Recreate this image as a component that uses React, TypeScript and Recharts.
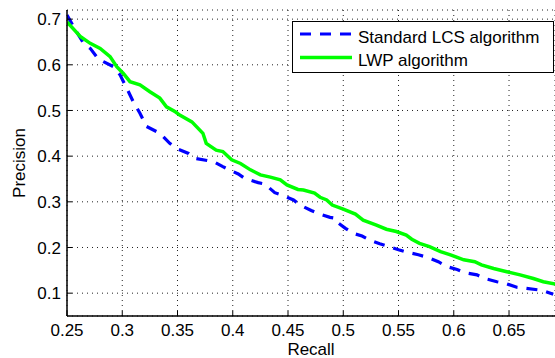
import React from 'react';
import { LineChart, Line, XAxis, YAxis, CartesianGrid, Legend } from 'recharts';

const seriesNames = ['Standard LCS algorithm', 'LWP algorithm'];

const lcsRecall = [0.25, 0.256, 0.265, 0.271, 0.278, 0.283, 0.292, 0.298, 0.304, 0.31, 0.316, 0.322, 0.334, 0.343, 0.349, 0.36, 0.366, 0.378, 0.384, 0.391, 0.397, 0.405, 0.411, 0.423, 0.429, 0.438, 0.444, 0.455, 0.461, 0.471, 0.479, 0.488, 0.493, 0.494, 0.502, 0.509, 0.517, 0.524, 0.533, 0.541, 0.55, 0.559, 0.568, 0.577, 0.586, 0.594, 0.603, 0.61, 0.621, 0.628, 0.639, 0.646, 0.657, 0.664, 0.677, 0.681, 0.69];
const lcsPrecision = [0.709, 0.683, 0.647, 0.636, 0.614, 0.607, 0.596, 0.578, 0.549, 0.519, 0.494, 0.465, 0.45, 0.428, 0.417, 0.406, 0.395, 0.39, 0.386, 0.377, 0.37, 0.361, 0.351, 0.342, 0.339, 0.32, 0.315, 0.304, 0.293, 0.281, 0.273, 0.266, 0.264, 0.256, 0.242, 0.231, 0.225, 0.216, 0.208, 0.202, 0.195, 0.189, 0.184, 0.178, 0.169, 0.158, 0.152, 0.145, 0.14, 0.132, 0.125, 0.122, 0.113, 0.111, 0.107, 0.105, 0.0975];

const lwpRecall = [0.25, 0.262, 0.271, 0.28, 0.289, 0.295, 0.301, 0.307, 0.316, 0.325, 0.334, 0.34, 0.348, 0.352, 0.363, 0.373, 0.376, 0.385, 0.391, 0.399, 0.407, 0.416, 0.425, 0.434, 0.443, 0.449, 0.459, 0.464, 0.474, 0.479, 0.485, 0.49, 0.5, 0.511, 0.518, 0.53, 0.539, 0.548, 0.557, 0.562, 0.569, 0.578, 0.588, 0.597, 0.609, 0.619, 0.625, 0.636, 0.648, 0.66, 0.672, 0.681, 0.692];
const lwpPrecision = [0.694, 0.662, 0.647, 0.636, 0.618, 0.596, 0.581, 0.563, 0.556, 0.541, 0.527, 0.508, 0.497, 0.49, 0.475, 0.45, 0.428, 0.413, 0.41, 0.392, 0.384, 0.37, 0.359, 0.354, 0.348, 0.337, 0.327, 0.326, 0.319, 0.31, 0.304, 0.293, 0.284, 0.273, 0.26, 0.249, 0.24, 0.235, 0.227, 0.218, 0.209, 0.202, 0.191, 0.184, 0.173, 0.169, 0.162, 0.154, 0.147, 0.14, 0.132, 0.125, 0.12];

const xTicks = [0.25, 0.3, 0.35, 0.4, 0.45, 0.5, 0.55, 0.6, 0.65];
const yTicks = [0.1, 0.2, 0.3, 0.4, 0.5, 0.6, 0.7];

const lcsData = lcsRecall.map((r, i) => ({ r, p: lcsPrecision[i] }));
const lwpData = lwpRecall.map((r, i) => ({ r, p: lwpPrecision[i] }));

const FONT = '"Liberation Sans", Arial, Helvetica, sans-serif';
const BLUE = '#0000ff';
const GREEN = '#00ff00';
const X_DOMAIN: [number, number] = [0.25, 0.6916];
const Y_DOMAIN: [number, number] = [0.05, 0.72];

function LegendBox() {
  return (
    <svg width={263} height={53} style={{ display: 'block' }}>
      <rect x={0.5} y={0.5} width={261} height={51} fill="#fff" stroke="#000" strokeWidth={1} />
      <line x1={8} x2={60} y1={13} y2={13} stroke={BLUE} strokeWidth={3.2} strokeDasharray="11 9" />
      <text x={66} y={21.5} fontSize={17} fontFamily={FONT} fill="#000">{seriesNames[0]}</text>
      <line x1={8} x2={60} y1={36.5} y2={36.5} stroke={GREEN} strokeWidth={3.5} />
      <text x={66} y={44.5} fontSize={17} fontFamily={FONT} fill="#000">{seriesNames[1]}</text>
    </svg>
  );
}

function YLabel(props: any) {
  const vb = props.viewBox || { x: 0, y: 10, width: 67, height: 306 };
  const cx = vb.x + 24.5;
  const cy = vb.y + vb.height / 2;
  return (
    <text x={cx} y={cy} transform={`rotate(-90 ${cx} ${cy})`} textAnchor="middle" fontSize={17} fontFamily={FONT} fill="#000">
      Precision
    </text>
  );
}

export default function App() {
  const tickStyle = { fill: '#000', fontSize: 17, fontFamily: FONT };
  const axisLine = { stroke: '#000', strokeWidth: 1.5 };
  const tickLine = { stroke: '#000', strokeWidth: 1 };
  return (
    <div style={{ position: 'absolute', left: 0, top: 0, background: '#fff' }}>
      <LineChart width={555} height={358} margin={{ top: 10, right: 0, bottom: 0, left: 0 }}>
        <CartesianGrid stroke="#222" strokeDasharray="1 4" strokeWidth={1} />
        <XAxis
          dataKey="r"
          type="number"
          domain={X_DOMAIN}
          allowDataOverflow
          ticks={xTicks}
          interval={0}
          height={42}
          tickSize={-5}
          tickMargin={13}
          axisLine={axisLine}
          tickLine={tickLine}
          tick={tickStyle}
          label={{ value: 'Recall', position: 'insideBottom', offset: 3.5, fill: '#000', fontSize: 17, fontFamily: FONT }}
        />
        <XAxis
          xAxisId="top"
          orientation="top"
          type="number"
          domain={X_DOMAIN}
          allowDataOverflow
          ticks={xTicks}
          interval={0}
          height={0}
          tickSize={-5}
          tick={false}
          axisLine={axisLine}
          tickLine={tickLine}
        />
        <YAxis
          type="number"
          domain={Y_DOMAIN}
          allowDataOverflow
          ticks={yTicks}
          interval={0}
          width={67}
          tickSize={-5}
          tickMargin={11}
          axisLine={axisLine}
          tickLine={tickLine}
          tick={tickStyle}
          label={<YLabel />}
        />
        <Legend
          layout="horizontal"
          verticalAlign="middle"
          content={() => <LegendBox />}
          wrapperStyle={{ position: 'absolute', left: 292, top: 21, width: 263, height: 53 }}
        />
        <Line
          data={lcsData}
          dataKey="p"
          name={seriesNames[0]}
          type="linear"
          stroke={BLUE}
          strokeWidth={3.2}
          strokeDasharray="11 9"
          dot={false}
          activeDot={false}
          isAnimationActive={false}
        />
        <Line
          data={lwpData}
          dataKey="p"
          name={seriesNames[1]}
          type="linear"
          stroke={GREEN}
          strokeWidth={3.5}
          dot={false}
          activeDot={false}
          isAnimationActive={false}
        />
      </LineChart>
    </div>
  );
}
